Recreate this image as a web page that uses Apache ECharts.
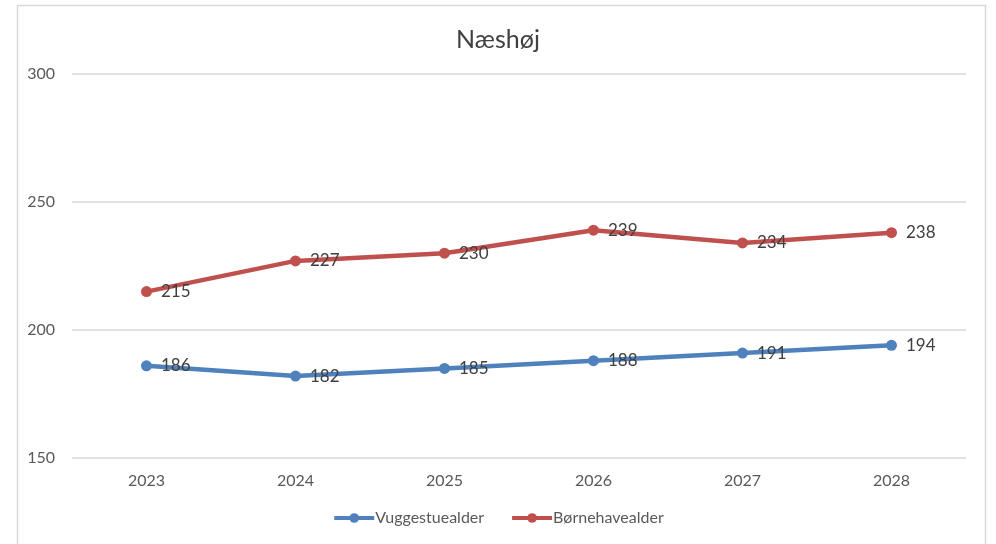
<!DOCTYPE html>
<html>
<head>
<meta charset="utf-8">
<script src="https://cdn.jsdelivr.net/npm/echarts@6/dist/echarts.min.js"></script>
<style>html,body{margin:0;padding:0;background:#fff}#c{width:996px;height:544px}</style>
</head>
<body>
<div id="c"></div>
<script>
const categories = ['2023','2024','2025','2026','2027','2028'];
const vuggestue = [186, 182, 185, 188, 191, 194];
const boernehave = [215, 227, 230, 239, 234, 238];
const yTicks = [150, 200, 250, 300];

const chart = echarts.init(document.getElementById('c'));
const font = 'Lato, sans-serif';
function series(name, data, color) {
  return {
    name, type: 'line', data,
    symbol: 'circle', symbolSize: 11,
    lineStyle: { color, width: 4.5 },
    itemStyle: { color },
    label: { show: true, position: 'right', distance: 9, color: '#404040', fontSize: 17, fontFamily: font },
    z: 3
  };
}
chart.setOption({
  animation: false,
  title: { text: 'Næshøj', left: 'center', top: 22, textStyle: { color: '#404040', fontSize: 25, fontWeight: 'normal', fontFamily: font } },
  graphic: [{ type: 'rect', shape: { x: 17.5, y: 5.5, width: 968, height: 600 }, style: { fill: 'none', stroke: '#d9d9d9', lineWidth: 1.5 }, silent: true }],
  grid: { left: 72, right: 30, top: 74, bottom: 86, containLabel: false },
  legend: {
    bottom: 13, left: 'center', itemWidth: 40, itemHeight: 12, itemGap: 26,
    lineStyle: { width: 4 },
    textStyle: { color: '#595959', fontSize: 16, fontFamily: font, padding: [0, 0, 0, -4] },
    data: ['Vuggestuealder', 'Børnehavealder']
  },
  xAxis: {
    type: 'category', data: categories, boundaryGap: true,
    axisLine: { show: false }, axisTick: { show: false },
    axisLabel: { color: '#595959', fontSize: 16, margin: 15, fontFamily: font }
  },
  yAxis: {
    type: 'value', min: yTicks[0], max: yTicks[yTicks.length - 1], interval: 50,
    axisLine: { show: false }, axisTick: { show: false },
    axisLabel: { color: '#595959', fontSize: 16, margin: 17, fontFamily: font },
    splitLine: { lineStyle: { color: '#d9d9d9', width: 1.5 } }
  },
  series: [
    series('Vuggestuealder', vuggestue, '#4f81bd'),
    series('Børnehavealder', boernehave, '#c0504d')
  ]
});
</script>
</body>
</html>
